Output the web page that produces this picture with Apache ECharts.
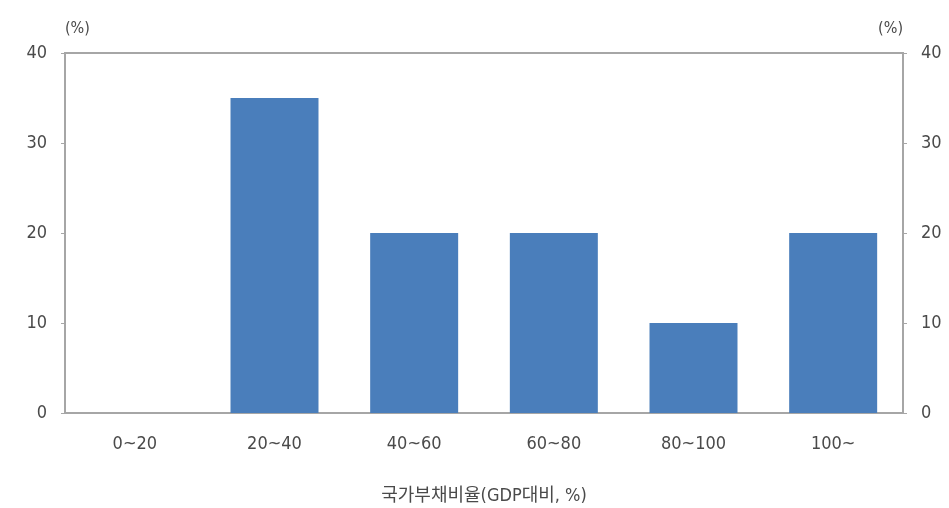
<!DOCTYPE html>
<html>
<head>
<meta charset="utf-8">
<script src="https://cdn.jsdelivr.net/npm/echarts@6/dist/echarts.min.js"></script>
<style>
  html, body { margin: 0; padding: 0; background: #fff; }
  #chart { width: 949px; height: 508px; }
</style>
</head>
<body>
<div id="chart"></div>
<script>
// Share of countries by government debt ratio band
const categories = ['0~20', '20~40', '40~60', '60~80', '80~100', '100~'];
const shares = [0, 35, 20, 20, 10, 20];
const yTicks = { min: 0, max: 40, interval: 10 };

const textColor = '#4a4a4a';
const lineColor = '#a6a6a6';
const font = '"Liberation Sans Narrow", "DejaVu Sans Condensed", "Noto Sans CJK KR", sans-serif';

const valueAxis = (pos) => ({
  type: 'value',
  position: pos,
  min: yTicks.min,
  max: yTicks.max,
  interval: yTicks.interval,
  name: '(%)',
  nameLocation: 'end',
  nameGap: 16,
  nameTextStyle: { color: textColor, fontSize: 16, fontFamily: font, align: pos === 'left' ? 'left' : 'right' },
  axisLine: { show: true, lineStyle: { color: lineColor, width: 2 } },
  axisTick: { show: true, length: 4, lineStyle: { color: lineColor, width: 1 } },
  axisLabel: { color: textColor, fontSize: 18, fontFamily: font, margin: 18 },
  splitLine: { show: false }
});

const chart = echarts.init(document.getElementById('chart'));
chart.setOption({
  backgroundColor: '#ffffff',
  animation: false,
  grid: {
    left: 65, right: 46, top: 53, bottom: 95,
    outerBoundsMode: 'none',
    show: true, borderColor: lineColor, borderWidth: 2
  },
  xAxis: {
    type: 'category',
    data: categories,
    name: '국가부채비율(GDP대비, %)',
    nameLocation: 'middle',
    nameGap: 74,
    nameTextStyle: { color: textColor, fontSize: 18, fontFamily: font },
    axisLine: { show: true, lineStyle: { color: lineColor, width: 2 } },
    axisTick: { show: false },
    axisLabel: { color: textColor, fontSize: 18, fontFamily: font, margin: 22 }
  },
  yAxis: [valueAxis('left'), valueAxis('right')],
  series: [{
    type: 'bar',
    data: shares,
    barWidth: '63%',
    itemStyle: { color: '#4a7ebb' }
  }]
});
</script>
</body>
</html>
